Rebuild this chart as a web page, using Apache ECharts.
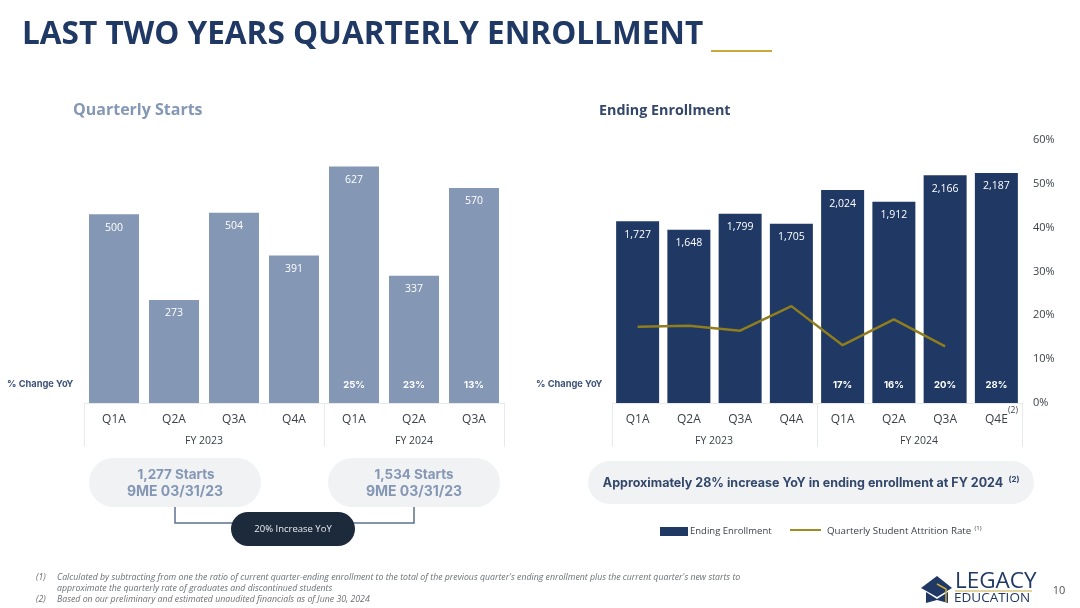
<!DOCTYPE html>
<html><head><meta charset="utf-8">
<style>html,body{margin:0;padding:0;background:#fff}#c{width:1080px;height:608px}</style>
<script src="https://cdn.jsdelivr.net/npm/echarts@6/dist/echarts.min.js"></script>
</head><body><div id="c"></div>
<script>
const startCats = ['Q1A','Q2A','Q3A','Q4A','Q1A','Q2A','Q3A'];
const startVals = [500,273,504,391,627,337,570];
const startYoY = ['','','','','25%','23%','13%'];
const enrollCats = ['Q1A','Q2A','Q3A','Q4A','Q1A','Q2A','Q3A','Q4E'];
const enrollVals = [1727,1648,1799,1705,2024,1912,2166,2187];
const enrollYoY = ['','','','','17%','16%','20%','28%'];
const attrition = [17.4,17.6,16.5,22.1,13.2,19.1,12.9,null];
const NAVY='#1f3864', STEEL='#8497b5', GOLD='#8f7d1e', TXT='#3a3f48', LINE='#e6e9ee', FONT='"Open Sans"';
const yoyLabel = (arr)=>({show:true,position:'insideBottom',distance:13,color:'#fff',fontFamily:'Inter',fontWeight:700,fontSize:9.5,formatter:p=>arr[p.dataIndex]});
const edge=(breaks)=>(i)=>breaks.includes(i);
function xAxis(g,cats,breaks){return {type:'category',gridIndex:g,data:cats,axisLine:{show:true,lineStyle:{color:LINE,width:1}},
  axisTick:{show:true,alignWithLabel:false,length:44,interval:edge(breaks),lineStyle:{color:LINE,width:1}},
  axisLabel:{color:TXT,fontFamily:FONT,fontSize:12,margin:11,interval:0}};}
function T(x,y,t,o){return {type:'text',x:x,y:y,silent:true,style:Object.assign({text:t,fontFamily:FONT,fill:TXT,fontSize:10.5,align:'center',verticalAlign:'middle'},o||{})};}
function pill(x,y,w,h,fill){return {type:'rect',silent:true,shape:{x:x,y:y,width:w,height:h,r:h/2},style:{fill:fill||'#f1f2f3'}};}
const NOTE={align:'left',fontSize:8.75,fontStyle:'italic',fill:'#6b6f76'};
const gfx=[
 T(22,35,'LAST TWO YEARS QUARTERLY ENROLLMENT',{align:'left',fontSize:31.55,fontWeight:700,fill:NAVY}),
 {type:'rect',silent:true,shape:{x:711,y:50,width:61,height:2},style:{fill:'#c9a93c'}},
 T(73,110,'Quarterly Starts',{align:'left',fontSize:16,fontWeight:700,fill:STEEL}),
 T(599,111,'Ending Enrollment',{align:'left',fontSize:14.3,fontWeight:700,fill:'#33476b'}),
 T(7,384,'% Change YoY',{align:'left',fontFamily:'Inter',fontSize:9.3,fontWeight:700,fill:'#3b5279'}),
 T(536,384,'% Change YoY',{align:'left',fontFamily:'Inter',fontSize:9.3,fontWeight:700,fill:'#3b5279'}),
 T(204,441,'FY 2023',{}),T(414,441,'FY 2024',{}),T(714,441,'FY 2023',{}),T(919,441,'FY 2024',{}),
 T(1013,411,'(2)',{fontSize:8.5}),
 pill(89,458,172,49),pill(328,458,172,49),
 T(176,475,'1,277 Starts',{fontFamily:'Inter',fontWeight:700,fontSize:13.4,fill:STEEL}),
 T(175,492,'9ME 03/31/23',{fontFamily:'Inter',fontWeight:700,fontSize:14,fill:STEEL}),
 T(414,475,'1,534 Starts',{fontFamily:'Inter',fontWeight:700,fontSize:13.4,fill:STEEL}),
 T(414,492,'9ME 03/31/23',{fontFamily:'Inter',fontWeight:700,fontSize:14,fill:STEEL}),
 {type:'polyline',silent:true,shape:{points:[[175,507],[175,523],[414,523],[414,507]]},style:{stroke:'#5b7291',lineWidth:1.5,fill:null}},
 pill(231,512,124,34,'#1d2a3c'),
 T(293,529,'20% Increase YoY',{fontSize:9.5,fill:'#e8ebef'}),
 pill(588,461,446,43),
 T(803,483,'Approximately 28% increase YoY in ending enrollment at FY 2024',{fontFamily:'Inter',fontWeight:700,fontSize:12.5,fill:'#33476b'}),
 T(1014,480,'(2)',{fontFamily:'Inter',fontWeight:700,fontSize:8,fill:'#33476b'}),
 {type:'rect',silent:true,shape:{x:660,y:527,width:28,height:9},style:{fill:NAVY}},
 T(690,531,'Ending Enrollment',{align:'left',fontSize:9.5}),
 {type:'line',silent:true,shape:{x1:790,y1:530,x2:821,y2:530},style:{stroke:'#a08c22',lineWidth:2}},
 T(827,531,'Quarterly Student Attrition Rate',{align:'left',fontSize:9.75}),
 T(978,528,'(1)',{fontSize:6}),
 T(36,577,'(1)',NOTE),
 T(57,577,"Calculated by subtracting from one the ratio of current quarter-ending enrollment to the total of the previous quarter's ending enrollment plus the current quarter's new starts to",NOTE),
 T(57,588,'approximate the quarterly rate of graduates and discontinued students',NOTE),
 T(36,599,'(2)',NOTE),
 T(57,599,'Based on our preliminary and estimated unaudited financials as of June 30, 2024',NOTE),
 {type:'polygon',silent:true,shape:{points:[[921,588],[937,576],[952,588],[937,597]]},style:{fill:NAVY}},
 {type:'polygon',silent:true,shape:{points:[[926,592],[937,599],[948,592],[948,603],[937,600],[926,603]]},style:{fill:NAVY}},
 {type:'polyline',silent:true,shape:{points:[[937,584],[946,589],[946,602]]},style:{stroke:'#c9a93c',lineWidth:1.5,fill:null}},
 T(955,582,'LEGACY',{align:'left',fontFamily:'"Open Sans"',fontSize:22.5,fill:NAVY}),
 T(954,598,'EDUCATION',{align:'left',fontFamily:'"Open Sans"',fontSize:13.5,fill:NAVY}),
 {type:'line',silent:true,shape:{x1:955,y1:591,x2:1032,y2:591},style:{stroke:'#c9a93c',lineWidth:1}},
 T(1059,591,'10',{fontSize:11,fill:'#555'})
];
const option={animation:false,
 grid:[{left:84,width:420,top:140,height:263},{left:612,width:410,top:140,height:263}],
 xAxis:[xAxis(0,startCats,[0,4,7]),xAxis(1,enrollCats,[0,4,8])],
 yAxis:[
  {type:'value',gridIndex:0,min:0,max:697,show:false},
  {type:'value',gridIndex:1,min:0,max:2500,show:false},
  {type:'value',gridIndex:1,position:'right',offset:0,min:0,max:60,interval:10,axisLine:{show:false},axisTick:{show:false},splitLine:{show:false},
   axisLabel:{color:TXT,fontFamily:FONT,fontSize:11,margin:11,padding:[4,0,0,0],formatter:'{value}%'}}
 ],
 series:[
  {name:'Quarterly Starts',type:'bar',xAxisIndex:0,yAxisIndex:0,data:startVals,barWidth:50,itemStyle:{color:STEEL},
   label:{show:true,position:'insideTop',distance:8,color:'#fff',fontFamily:FONT,fontSize:10.5,formatter:p=>p.value.toLocaleString('en-US')}},
  {name:'YoY starts',type:'bar',xAxisIndex:0,yAxisIndex:0,data:startVals,barWidth:50,barGap:'-100%',itemStyle:{color:'transparent'},label:yoyLabel(startYoY)},
  {name:'Ending Enrollment',type:'bar',xAxisIndex:1,yAxisIndex:1,data:enrollVals,barWidth:43,itemStyle:{color:NAVY},
   label:{show:true,position:'insideTop',distance:8,color:'#fff',fontFamily:FONT,fontSize:10.5,formatter:p=>p.value.toLocaleString('en-US')}},
  {name:'YoY enroll',type:'bar',xAxisIndex:1,yAxisIndex:1,data:enrollVals,barWidth:43,barGap:'-100%',itemStyle:{color:'transparent'},label:yoyLabel(enrollYoY)},
  {name:'Quarterly Student Attrition Rate',type:'line',xAxisIndex:1,yAxisIndex:2,data:attrition,symbol:'none',lineStyle:{color:GOLD,width:2.5},z:5}
 ],
 graphic:{elements:gfx}
};
echarts.init(document.getElementById('c')).setOption(option);
</script></body></html>
